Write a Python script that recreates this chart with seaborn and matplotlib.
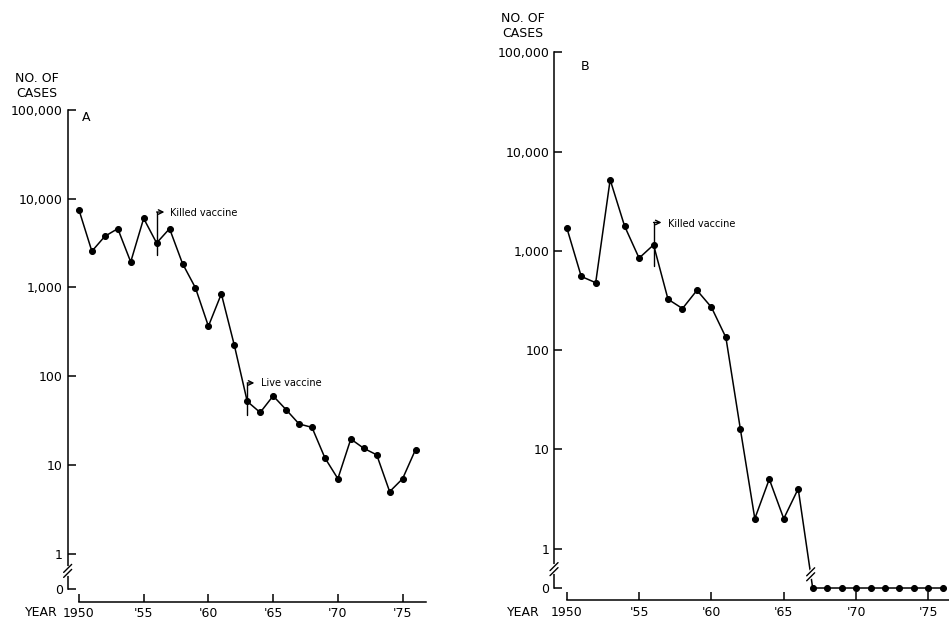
import numpy as np
import pandas as pd
import matplotlib
matplotlib.use("Agg")
import matplotlib.pyplot as plt
import seaborn as sns
from matplotlib.lines import Line2D
from matplotlib.ticker import NullLocator
from matplotlib.transforms import IdentityTransform

# reported cases per year
years = list(range(1950, 1977))
cases_a = [7500, 2560, 3770, 4600, 1940, 6000, 3170, 4600, 1860, 990, 366, 847, 224,
           52, 39, 60, 42, 29, 26.5, 12, 7, 19.6, 15.4, 13, 5, 7, 14.9]
cases_b = [1710, 552, 477, 5200, 1770, 844, 1148, 325, 262, 400, 270, 134, 16,
           2, 5, 2, 4, 0, 0, 0, 0, 0, 0, 0, 0, 0, 0]
y_ticks = [0, 1, 10, 100, 1000, 10000, 100000]
y_ticklabels = ["0", "1", "10", "100", "1,000", "10,000", "100,000"]
x_ticks = [1950, 1955, 1960, 1965, 1970, 1975]
x_ticklabels = ["1950", "'55", "'60", "'65", "'70", "'75"]

ZERO = 0.4  # where "0" sits on the log axis

sns.set_style("ticks")
plt.rcParams['font.family'] = ['DejaVu Sans']
plt.rcParams.update({"text.color": "black", "xtick.color": "black",
                     "ytick.color": "black", "axes.edgecolor": "black",
                     "axes.labelcolor": "black"})

df = pd.DataFrame({"year": years, "A": cases_a, "B": cases_b})
df["plot_a"] = df["A"].replace(0, ZERO)
df["plot_b"] = df["B"].replace(0, ZERO)

fig = plt.figure(figsize=(9.49, 6.2), dpi=100)
axA = fig.add_axes([0.0713, 0.05, 0.3775, 0.7726])
axB = fig.add_axes([0.5838, 0.0516, 0.4166, 0.864])


def style_axis(ax, xlim, offset):
    ax.set_yscale("log")
    ax.set_ylim(ZERO, 1e5)
    ax.set_xlim(*xlim)
    ax.set_yticks([ZERO if t == 0 else t for t in y_ticks])
    ax.set_yticklabels(y_ticklabels)
    ax.yaxis.set_minor_locator(NullLocator())
    ax.set_xticks(x_ticks)
    ax.set_xticklabels(x_ticklabels)
    ax.tick_params(axis="both", direction="in", length=6, width=1.1,
                   labelsize=9, color="black", labelcolor="black")
    ax.tick_params(axis="x", pad=4)
    ax.spines["top"].set_visible(False)
    ax.spines["right"].set_visible(False)
    ax.spines["left"].set_linewidth(1.1)
    ax.spines["bottom"].set_linewidth(1.1)
    ax.spines["bottom"].set_position(("outward", offset))
    ax.spines["bottom"].set_bounds(1950, xlim[1])
    ax.set_xlabel("")
    ax.set_ylabel("")
    ax.grid(False)


for ax, col in [(axA, "plot_a"), (axB, "plot_b")]:
    sns.lineplot(data=df, x="year", y=col, ax=ax, color="black", marker="o",
                 markersize=4.3, markeredgecolor="black", linewidth=1.1,
                 clip_on=False)

style_axis(axA, (1949.13, 1976.8), 9)
style_axis(axB, (1949.12, 1976.45), 8.6)


def slashes(px, py):
    for dy in (-2.5, 2.5):
        fig.add_artist(Line2D([px - 4, px + 4], [py + dy - 4, py + dy + 4],
                              color="black", lw=1, transform=IdentityTransform()))


def spine_break(ax, yval):
    px, py = ax.transData.transform((ax.get_xlim()[0], yval))
    fig.add_artist(Line2D([px, px], [py - 3, py + 3], color="white", lw=3,
                          transform=IdentityTransform()))
    slashes(px, py)


spine_break(axA, 0.64)
spine_break(axB, 0.62)

# break on the line of panel B where it drops to zero
i = cases_b.index(0)
y0, y1 = np.log10(df["plot_b"][i - 1]), np.log10(df["plot_b"][i])
yb = np.log10(0.55)
xb = years[i - 1] + (y0 - yb) / (y0 - y1)
px, py = axB.transData.transform((xb, 0.55))
fig.add_artist(Line2D([px - 0.4, px + 0.4], [py - 3, py + 3], color="white", lw=3,
                      transform=IdentityTransform()))
slashes(px, py)


def vaccine_mark(ax, x, lo, hi, arrow_dx, text_x, text, text_y):
    ax.plot([x, x], [lo, hi], color="black", lw=1)
    ax.annotate("", xy=(x + arrow_dx, hi), xytext=(x, hi),
                arrowprops=dict(arrowstyle="->", lw=1, color="black",
                                shrinkA=0, shrinkB=0, mutation_scale=8))
    ax.text(text_x, text_y, text, fontsize=7, va="center", ha="left")


vaccine_mark(axA, 1956, 2330, 7080, 0.6, 1957.0, "Killed vaccine", 6900)
vaccine_mark(axA, 1963, 37, 84, 0.55, 1964.1, "Live vaccine", 84)
vaccine_mark(axB, 1956, 706, 1930, 0.55, 1957.0, "Killed vaccine", 1880)

# labels
fig.text(0.039, 0.862, "NO. OF\nCASES", ha="center", va="center", fontsize=9,
         linespacing=1.2)
fig.text(0.551, 0.958, "NO. OF\nCASES", ha="center", va="center", fontsize=9,
         linespacing=1.2)
fig.text(0.0906, 0.811, "A", ha="center", va="center", fontsize=9)
fig.text(0.6164, 0.8935, "B", ha="center", va="center", fontsize=9)
fig.text(25 / 949, 1 - 612.5 / 620, "YEAR", ha="left", va="center", fontsize=9)
fig.text(507 / 949, 1 - 612.5 / 620, "YEAR", ha="left", va="center", fontsize=9)

fig.savefig("out.png", dpi=100)
